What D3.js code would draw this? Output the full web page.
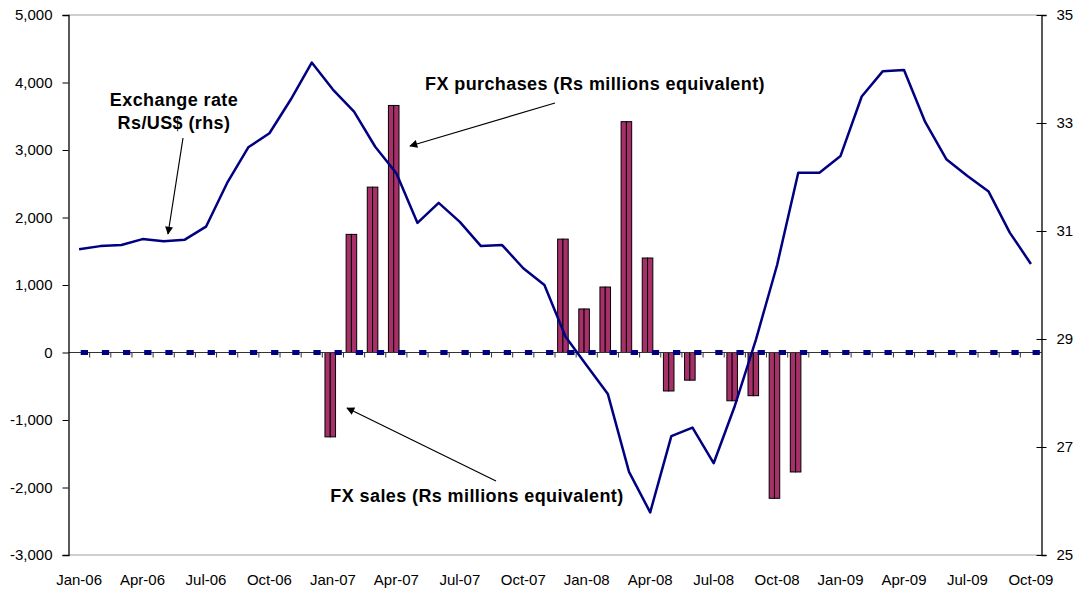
<!DOCTYPE html>
<html>
<head>
<meta charset="utf-8">
<script src="https://cdn.jsdelivr.net/npm/d3@7"></script>
<style>
  body { margin: 0; background: #fff; }
  svg text { font-family: "Liberation Sans", Arial, sans-serif; }
</style>
</head>
<body>
<svg id="chart" width="1076" height="592"></svg>
<script>
var months = ["Jan-06","Feb-06","Mar-06","Apr-06","May-06","Jun-06","Jul-06","Aug-06","Sep-06","Oct-06","Nov-06","Dec-06",
              "Jan-07","Feb-07","Mar-07","Apr-07","May-07","Jun-07","Jul-07","Aug-07","Sep-07","Oct-07","Nov-07","Dec-07",
              "Jan-08","Feb-08","Mar-08","Apr-08","May-08","Jun-08","Jul-08","Aug-08","Sep-08","Oct-08","Nov-08","Dec-08",
              "Jan-09","Feb-09","Mar-09","Apr-09","May-09","Jun-09","Jul-09","Aug-09","Sep-09","Oct-09"];

// net FX intervention, Rs millions equivalent (purchases +, sales -)
var fxNet = [0,0,0,0,0,0,0,0,0,0,0,0,
             -1250,1750,2450,3660,0,0,0,0,0,0,0,1680,
             645,970,3420,1400,-570,-410,0,-715,-640,-2160,-1770,0,
             0,0,0,0,0,0,0,0,0,0];

// zero series shown as the dashed marks along the axis
var zeroSeries = months.map(function(){ return 0; });

// exchange rate Rs/US$ (rhs)
var rate = [30.66,30.72,30.74,30.85,30.81,30.84,31.08,31.89,32.55,32.81,33.43,34.12,
            33.62,33.21,32.56,32.07,31.15,31.52,31.17,30.72,30.74,30.31,30.00,29.04,
            28.51,27.98,26.54,25.79,27.20,27.36,26.70,27.76,28.99,30.37,32.08,32.08,
            32.39,33.49,33.96,33.98,33.02,32.33,32.02,31.73,30.97,30.39];

var leftTicks = [-3000,-2000,-1000,0,1000,2000,3000,4000,5000];
var rightTicks = [25,27,29,31,33,35];

var plotLeft = 68.5, plotRight = 1041.5, plotTop = 15, plotBottom = 555;

var svg = d3.select("#chart");
var fmt = d3.formatLocale({decimal: ".", thousands: ",", grouping: [3], currency: ["", ""], minus: "-"});

var x = d3.scaleBand().domain(months).range([plotLeft, plotRight]);
var xSub = d3.scaleBand().domain(["a","b","z"]).range([0, x.bandwidth()]).paddingInner(0).paddingOuter(0.5);
var yL = d3.scaleLinear().domain([-3000, 5000]).range([plotBottom, plotTop]);
var yR = d3.scaleLinear().domain([25, 35]).range([plotBottom, plotTop]);

// plot border top/bottom
svg.append("line").attr("x1", plotLeft).attr("x2", plotRight).attr("y1", plotTop).attr("y2", plotTop)
	.attr("stroke", "#a0a0a0").attr("stroke-width", 1.2);
svg.append("line").attr("x1", plotLeft).attr("x2", plotRight).attr("y1", plotBottom).attr("y2", plotBottom)
	.attr("stroke", "#a0a0a0").attr("stroke-width", 1.2);

// bars (two touching bars per month)
["a","b"].forEach(function(k){
	svg.append("g").selectAll("rect")
		.data(fxNet.map(function(v, i){ return {m: months[i], v: v}; }).filter(function(d){ return d.v != 0; }))
		.enter().append("rect")
			.attr("x", function(d){ return x(d.m) + xSub(k); })
			.attr("width", xSub.bandwidth())
			.attr("y", function(d){ return yL(Math.max(0, d.v)); })
			.attr("height", function(d){ return Math.abs(yL(d.v) - yL(0)); })
			.attr("fill", "#a8306a")
			.attr("stroke", "#000")
			.attr("stroke-width", 1);
});

// x axis along zero, ticks between months
var xAxisG = svg.append("g");
xAxisG.append("line").attr("x1", plotLeft).attr("x2", plotRight).attr("y1", yL(0)).attr("y2", yL(0))
	.attr("stroke", "#333").attr("stroke-width", 1);
months.forEach(function(m, i){
	if (i == 0) return;
	xAxisG.append("line")
		.attr("x1", x(m)).attr("x2", x(m))
		.attr("y1", yL(0)).attr("y2", yL(0) + 5)
		.attr("stroke", "#333").attr("stroke-width", 1);
});

// zero series dashes
svg.append("g").selectAll("rect")
	.data(zeroSeries.map(function(v, i){ return {m: months[i], v: v}; }))
	.enter().append("rect")
		.attr("x", function(d){ return x(d.m) + xSub("z") - 1; })
		.attr("width", xSub.bandwidth() + 2)
		.attr("y", function(d){ return yL(d.v) - 2.5; })
		.attr("height", 5)
		.attr("fill", "#000080");

// month labels at the bottom, every quarter
svg.append("g").selectAll("text")
	.data(months.filter(function(m, i){ return i % 3 == 0; }))
	.enter().append("text")
		.attr("x", function(d){ return x(d) + x.bandwidth() / 2; })
		.attr("y", 584.5)
		.attr("text-anchor", "middle")
		.attr("font-size", 15)
		.attr("fill", "#000")
		.text(function(d){ return d; });

// left axis
var axL = svg.append("g").attr("transform", "translate(" + plotLeft + ",0)")
	.call(d3.axisLeft(yL).tickValues(leftTicks).tickSize(6).tickPadding(10).tickFormat(fmt.format(",")));
axL.select(".domain").attr("stroke", "#000").attr("stroke-width", 1.3);
axL.selectAll(".tick line").attr("stroke", "#000");
axL.selectAll(".tick text").attr("font-size", 15).attr("font-family", "Liberation Sans, Arial, sans-serif").attr("fill", "#000");

// right axis (ticks cross the line)
var axR = svg.append("g").attr("transform", "translate(" + plotRight + ",0)")
	.call(d3.axisRight(yR).tickValues(rightTicks).tickSize(5).tickPadding(10).tickFormat(fmt.format("d")));
axR.select(".domain").attr("stroke", "#000").attr("stroke-width", 1.3);
axR.selectAll(".tick line").attr("x1", -5).attr("stroke", "#000");
axR.selectAll(".tick text").attr("font-size", 15).attr("font-family", "Liberation Sans, Arial, sans-serif").attr("fill", "#000");

// exchange rate line
var line = d3.line()
	.x(function(d, i){ return x(months[i]) + x.bandwidth() / 2; })
	.y(function(d){ return yR(d); });
svg.append("path").datum(rate)
	.attr("d", line)
	.attr("fill", "none")
	.attr("stroke", "#000080")
	.attr("stroke-width", 2.5)
	.attr("stroke-linejoin", "round");

// annotations
svg.append("defs").append("marker")
	.attr("id", "arrow")
	.attr("viewBox", "0 0 10 10")
	.attr("refX", 9).attr("refY", 5)
	.attr("markerWidth", 11).attr("markerHeight", 8)
	.attr("markerUnits", "userSpaceOnUse")
	.attr("orient", "auto")
	.append("path").attr("d", "M0,0 L10,5 L0,10 z").attr("fill", "#000");

var notes = [
	{lines: ["Exchange rate", "Rs/US$ (rhs)"], x: 174, y: 106, from: [183, 138], to: [168, 234]},
	{lines: ["FX purchases (Rs millions equivalent)"], x: 595, y: 90, from: [555, 103], to: [410, 146]},
	{lines: ["FX sales (Rs millions equivalent)"], x: 477, y: 502, from: [496, 481], to: [347, 408]}
];
notes.forEach(function(n){
	n.lines.forEach(function(t, j){
		svg.append("text")
			.attr("x", n.x).attr("y", n.y + j * 23)
			.attr("text-anchor", "middle")
			.attr("font-size", 18)
			.attr("font-weight", "bold")
			.attr("letter-spacing", 0.4)
			.attr("fill", "#000")
			.text(t);
	});
	svg.append("line")
		.attr("x1", n.from[0]).attr("y1", n.from[1])
		.attr("x2", n.to[0]).attr("y2", n.to[1])
		.attr("stroke", "#000").attr("stroke-width", 1.2)
		.attr("marker-end", "url(#arrow)");
});
</script>
</body>
</html>
